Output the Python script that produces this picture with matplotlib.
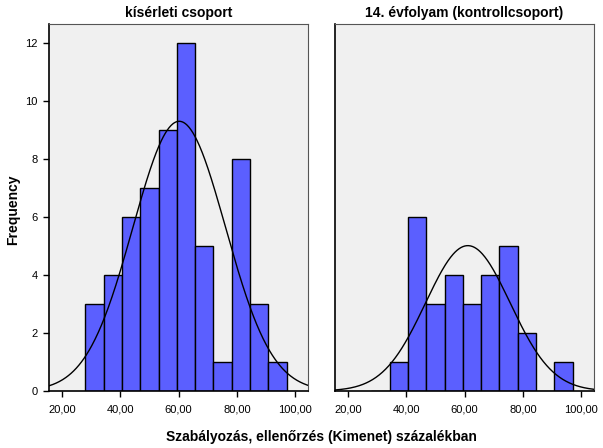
import numpy as np
import matplotlib
matplotlib.use('Agg')
import matplotlib.pyplot as plt

plt.rcParams['font.family'] = ['Liberation Sans', 'DejaVu Sans']

# data
panel_titles = ['kísérleti csoport', '14. évfolyam (kontrollcsoport)']
bin_start = 28.0
bin_width = 6.28
counts_kiserleti = [3, 4, 6, 7, 9, 12, 5, 1, 8, 3, 1]
counts_kontroll = [0, 1, 6, 3, 4, 3, 4, 5, 2, 0, 1]
# normal curve parameters (mean, sd) as seen on the chart
curve_mean = [60.2, 61.1]
curve_sd = [15.9, 14.5]
xticks = [20, 40, 60, 80, 100]
xtick_labels = ['20,00', '40,00', '60,00', '80,00', '100,00']
yticks = [0, 2, 4, 6, 8, 10, 12]

W, H = 603, 448
fig = plt.figure(figsize=(W / 100, H / 100), dpi=100)
ax_boxes = [(49, 24, 259, 367), (335, 24, 259, 367)]
all_counts = [counts_kiserleti, counts_kontroll]

edges = bin_start + bin_width * np.arange(len(counts_kiserleti) + 1)
xs = np.linspace(15.5, 104.4, 400)

for i in range(2):
    x0, y0, w, h = ax_boxes[i]
    ax = fig.add_axes([x0 / W, 1 - (y0 + h) / H, w / W, h / H])
    ax.set_facecolor('#f0f0f0')
    counts = all_counts[i]
    ax.bar(edges[:-1], counts, width=bin_width, align='edge',
           color='#5b5fff', edgecolor='black', linewidth=1.0, zorder=2)
    n = sum(counts)
    m, s = curve_mean[i], curve_sd[i]
    ys = n * bin_width / (s * np.sqrt(2 * np.pi)) * np.exp(-0.5 * ((xs - m) / s) ** 2)
    ax.plot(xs, ys, color='black', linewidth=1.0, zorder=3)
    ax.set_xlim(15.5, 104.4)
    ax.set_ylim(0, 12.65)
    ax.set_xticks(xticks)
    ax.set_xticklabels(xtick_labels, fontsize=8)
    ax.tick_params(axis='x', direction='out', length=4, width=1, pad=6)
    if i == 0:
        ax.set_yticks(yticks)
        ax.set_yticklabels([str(v) for v in yticks], fontsize=8)
        ax.tick_params(axis='y', direction='out', length=4, width=1, pad=4)
    else:
        ax.set_yticks([])
    ax.set_title(panel_titles[i], fontsize=10, fontweight='bold', pad=5)
    for side in ['top', 'right']:
        ax.spines[side].set_color('#555555')
        ax.spines[side].set_linewidth(0.8)
    for side in ['left', 'bottom']:
        ax.spines[side].set_color('black')
        ax.spines[side].set_linewidth(1.2)

fig.text(321 / W, 1 - 437 / H, 'Szabályozás, ellenőrzés (Kimenet) százalékban',
         ha='center', va='center', fontsize=10, fontweight='bold')
fig.text(13 / W, 1 - 210 / H, 'Frequency', rotation=90,
         ha='center', va='center', fontsize=10, fontweight='bold')

plt.savefig('out.png', dpi=100)
